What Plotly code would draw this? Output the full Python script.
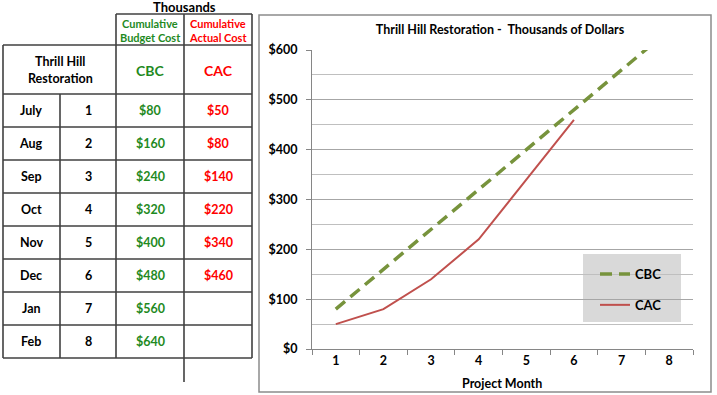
import plotly.graph_objects as go

# ---- data ----
months = ["July", "Aug", "Sep", "Oct", "Nov", "Dec", "Jan", "Feb"]
month_num = [1, 2, 3, 4, 5, 6, 7, 8]
cbc = [80, 160, 240, 320, 400, 480, 560, 640]
cac = [50, 80, 140, 220, 340, 460, None, None]
y_tick_vals = [0, 100, 200, 300, 400, 500, 600]
y_tick_text = ["$0", "$100", "$200", "$300", "$400", "$500", "$600"]

W, H = 717, 395
FONT = "Lato"
GREEN_TXT = "#1f8a1f"
RED_TXT = "#ff0000"
CBC_COLOR = "#77933C"
CAC_COLOR = "#C0504D"


def X(px):
    return px / W


def Y(py):
    return 1 - py / H


fig = go.Figure()

fig.add_trace(go.Scatter(
    x=[str(m) for m in month_num], y=cbc, name="<b>CBC</b>", mode="lines",
    line=dict(color=CBC_COLOR, width=3.5, dash="12px,7px"),
    legendgroup="a", hoverinfo="skip",
))
fig.add_trace(go.Scatter(
    x=[str(m) for m in month_num], y=cac, name="<b>CAC</b>", mode="lines",
    line=dict(color=CAC_COLOR, width=2),
    legendgroup="b", hoverinfo="skip",
))

shapes = []
annotations = []

# chart border
shapes.append(dict(type="rect", xref="paper", yref="paper",
                   x0=X(259), x1=X(711), y0=Y(392), y1=Y(15),
                   line=dict(color="#8c8c8c", width=1.5), layer="below"))
# legend background
shapes.append(dict(type="rect", xref="paper", yref="paper",
                   x0=X(583), x1=X(681), y0=Y(322), y1=Y(254),
                   fillcolor="#d9d9d9", line=dict(width=0), layer="below"))

# ---- table ----
LC = "#404040"
LW = 1.6
row_top = 94
row_h = 33
n = len(months)
bottom = row_top + row_h * n


def hline(y, x0, x1):
    shapes.append(dict(type="line", xref="paper", yref="paper",
                       x0=X(x0), x1=X(x1), y0=Y(y), y1=Y(y),
                       line=dict(color=LC, width=LW)))


def vline(x, y0, y1):
    shapes.append(dict(type="line", xref="paper", yref="paper",
                       x0=X(x), x1=X(x), y0=Y(y0), y1=Y(y1),
                       line=dict(color=LC, width=LW)))


hline(14, 116, 252)
hline(45, 3, 252)
for k in range(n + 1):
    hline(row_top + row_h * k, 3, 252)
vline(3, 45, bottom)
vline(60, row_top, bottom)
vline(116, 14, bottom)
vline(184, 14, 382)
vline(252, 14, bottom)


def txt(x, y, s, color="#000000", size=12, bold=True):
    annotations.append(dict(
        xref="paper", yref="paper", x=X(x), y=Y(y), text=f"<b>{s}</b>" if bold else s,
        showarrow=False, xanchor="center", yanchor="middle",
        font=dict(family=FONT, size=size, color=color)))


txt(184, 7.5, "Thousands", size=13)
txt(150, 24, "Cumulative", GREEN_TXT, size=11)
txt(150, 38, "Budget Cost", GREEN_TXT, size=11)
txt(218, 24, "Cumulative", RED_TXT, size=11)
txt(218, 38, "Actual Cost", RED_TXT, size=11)
txt(60, 62, "Thrill Hill", size=12.5)
txt(60, 79, "Restoration", size=12.5)
txt(150, 70, "CBC", GREEN_TXT, size=14)
txt(218, 70, "CAC", RED_TXT, size=14)

for i, m in enumerate(months):
    yc = row_top + row_h * i + row_h / 2
    txt(31, yc, m, size=12.5)
    txt(88, yc, str(month_num[i]), size=12.5)
    txt(150, yc, f"${cbc[i]}", GREEN_TXT, size=12.5)
    if cac[i] is not None:
        txt(218, yc, f"${cac[i]}", RED_TXT, size=12.5)

# x axis title
annotations.append(dict(xref="paper", yref="paper", x=X(502), y=Y(383),
                        text="<b>Project Month</b>", showarrow=False,
                        xanchor="center", yanchor="middle",
                        font=dict(family=FONT, size=12.5, color="#000")))

fig.update_layout(
    width=W, height=H, autosize=False,
    margin=dict(l=0, r=0, t=0, b=0, pad=0, autoexpand=False),
    paper_bgcolor="white", plot_bgcolor="white",
    font=dict(family=FONT, color="#000"),
    hovermode=False,
    title=dict(text="<b>Thrill Hill Restoration -  Thousands of Dollars</b>",
               x=X(500), y=Y(30), xanchor="center", yanchor="middle",
               xref="container", yref="container", automargin=False,
               font=dict(family=FONT, size=12.5, color="#000")),
    xaxis=dict(domain=[X(312), X(693)], type="category", range=[-0.5, 7.5],
               automargin=False,
               tickson="boundaries", ticks="outside", ticklen=5,
               tickcolor="#868686", showline=True, linecolor="#868686",
               linewidth=1, showgrid=False,
               tickfont=dict(family=FONT, size=12.5, color="#000"),
               tickprefix="<b>", ticksuffix="</b>"),
    yaxis=dict(domain=[Y(349), Y(50)], range=[0, 600], automargin=False,
               tickvals=y_tick_vals, ticktext=[f"<b>{t}</b>" for t in y_tick_text],
               ticks="outside", ticklen=5, tickcolor="#868686",
               showline=True, linecolor="#868686", linewidth=1,
               showgrid=True, gridcolor="#a6a6a6", gridwidth=1,
               minor=dict(dtick=50, tick0=0, showgrid=True, gridcolor="#bfbfbf", ticks=""),
               zeroline=False, ticklabelstandoff=6,
               tickfont=dict(family=FONT, size=12.5, color="#000")),
    showlegend=True,
    legend=dict(x=X(595), y=Y(259), xanchor="left", yanchor="top",
                bgcolor="rgba(0,0,0,0)", traceorder="grouped", tracegroupgap=11,
                font=dict(family=FONT, size=13, color="#000"),
                itemwidth=30),
    shapes=shapes,
    annotations=annotations,
)

fig.write_html("out.html",
               config={"displayModeBar": False},
               post_script="document.body.style.margin='0';document.body.style.overflow='hidden';")
